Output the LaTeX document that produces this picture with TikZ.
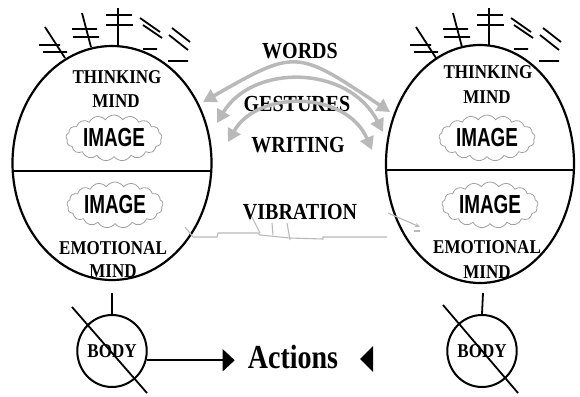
\documentclass[tikz,border=0pt]{standalone}
\usepackage{fontspec}
\setmainfont{Liberation Serif}
\newfontfamily\imgfont{Liberation Sans}
\usetikzlibrary{shapes.geometric,shapes.symbols,arrows.meta}
\newcommand\vstr[1]{\scalebox{1}[1.15]{#1}}
\begin{document}
\begin{tikzpicture}[x=1pt,y=-1pt,
  mind/.style={ellipse, draw, line width=2.2pt, inner sep=0pt},
  lab/.style={font=\bfseries\fontsize{17}{17}\selectfont, inner sep=0pt},
  comm/.style={font=\bfseries\fontsize{20}{20}\selectfont, inner sep=0pt},
  imgcloud/.style={cloud, draw=gray!75, line width=0.8pt, cloud puffs=17, cloud puff arc=115,
    cloud ignores aspect, minimum width=96pt, minimum height=46pt, inner sep=0pt,
    font=\imgfont\bfseries\fontsize{18}{18}\selectfont},
  tickline/.style={line width=1.8pt},
  talk/.style={draw=gray!55, line width=3.5pt,
    {Triangle[length=13pt,width=14pt]}-{Triangle[length=13pt,width=14pt]}},
  vib/.style={draw=gray!55, line width=1.1pt},
  bodyshape/.style={ellipse, draw, line width=2pt, minimum width=60pt, minimum height=72pt,
    inner sep=0pt, font=\bfseries\fontsize{17}{17}\selectfont},
  stroke/.style={line width=1.8pt}]
\useasboundingbox (0,0) rectangle (580,396);
\fill[white] (0,0) rectangle (580,396);

% minds
\node[mind, minimum width=199pt, minimum height=234pt] (L) at (112,163) {};
\node[mind, minimum width=188pt, minimum height=238pt] (R) at (480,164) {};
\draw[line width=2.2pt] (13,171) -- (211,171);
\draw[line width=2.2pt] (386,170) -- (574,170);

% thoughts above heads
\foreach \dx in {0pt,371pt}{
\begin{scope}[xshift=\dx]
  \draw[tickline] (45,27)--(65,58) (39,45)--(60,45) (43,52)--(67,52);
  \draw[tickline] (82,13)--(91,47) (72,29)--(97,29) (73,37)--(99,37);
  \draw[tickline] (118,8)--(118,45) (106,15)--(132,15) (106,25)--(133,25);
  \draw[tickline] (140,18)--(160,32) (143,25)--(162,38) (143,49)--(157,49);
  \draw[tickline] (172,28)--(190,42) (169,35)--(188,50) (168,61)--(188,61);
\end{scope}}

% texts in minds
\node[lab] (lt1) at (117,77) {\vstr{THINKING}};
\node[lab] (lt2) at (116,101) {\vstr{MIND}};
\node[imgcloud] (lc1) at (114,138) {\scalebox{1.05}[1.45]{IMAGE}};
\node[imgcloud] (lc2) at (115,205) {\scalebox{1.05}[1.45]{IMAGE}};
\node[lab] (le1) at (113,248) {\vstr{EMOTIONAL}};
\node[lab] (le2) at (113,271) {\vstr{MIND}};

\node[lab] (rt1) at (488,72) {\vstr{THINKING}};
\node[lab] (rt2) at (487,97) {\vstr{MIND}};
\node[imgcloud] (rc1) at (487,138) {\scalebox{1.05}[1.45]{IMAGE}};
\node[imgcloud] (rc2) at (490,205) {\scalebox{1.05}[1.45]{IMAGE}};
\node[lab] (re1) at (487,247) {\vstr{EMOTIONAL}};
\node[lab] (re2) at (487,272) {\vstr{MIND}};

% communication
\node[comm] (words) at (300,51) {\vstr{WORDS}};
\node[comm] (gest) at (297,104) {\vstr{GESTURES}};
\node[comm] (writ) at (298,145) {\vstr{WRITING}};
\node[comm] (vibr) at (300,212) {\vstr{VIBRATION}};

\coordinate (w1) at (203,102); \coordinate (w2) at (390,112);
\coordinate (g1) at (217,123); \coordinate (g2) at (383,132);
\coordinate (r1) at (228,142); \coordinate (r2) at (372,150);
\draw[talk] (w1) .. controls (296,49) .. (w2);
\draw[talk] (g1) .. controls (252,64) and (348,64) .. (g2);
\draw[talk] (r1) .. controls (257,90) and (346,90) .. (r2);

% vibration line
\draw[vib] (185,227) -- (193,237) -- (217,237) -- (218,233) -- (258,233) -- (260,235) -- (290,238) -- (323,239) -- (323,237) -- (387,237);
\draw[vib] (252,217) -- (260,233);
\draw[vib] (272,223) -- (273,235);
\draw[vib] (287,223) -- (290,240);
\draw[vib, -{Stealth[length=5pt,width=4pt]}] (388,213) -- (420,227);
\draw[vib] (414,231) -- (420,231);

% bodies
\node[bodyshape] (BL) at (112,351) {\vstr{BODY}};
\node[bodyshape] (BR) at (482,351) {\vstr{BODY}};
\coordinate (nl) at (112,293);
\coordinate (nr) at (483,293);
\draw[stroke] (nl) -- (BL.north);
\draw[stroke] (nr) -- (BR.north);
\draw[stroke] (72,307) -- (147,393);
\draw[stroke] (443,305) -- (518,393);

% actions
\node[font=\bfseries\fontsize{28}{28}\selectfont, inner sep=0pt] (act) at (293,357) {\scalebox{1}[1.2]{Actions}};
\draw[stroke, -{Triangle[length=12pt,width=22pt]}, shorten >=13pt] (BL.-15) -- (BL.-15 -| act.west);
\fill (360,359) -- (373,346) -- (373,372) -- cycle;
\end{tikzpicture}
\end{document}
